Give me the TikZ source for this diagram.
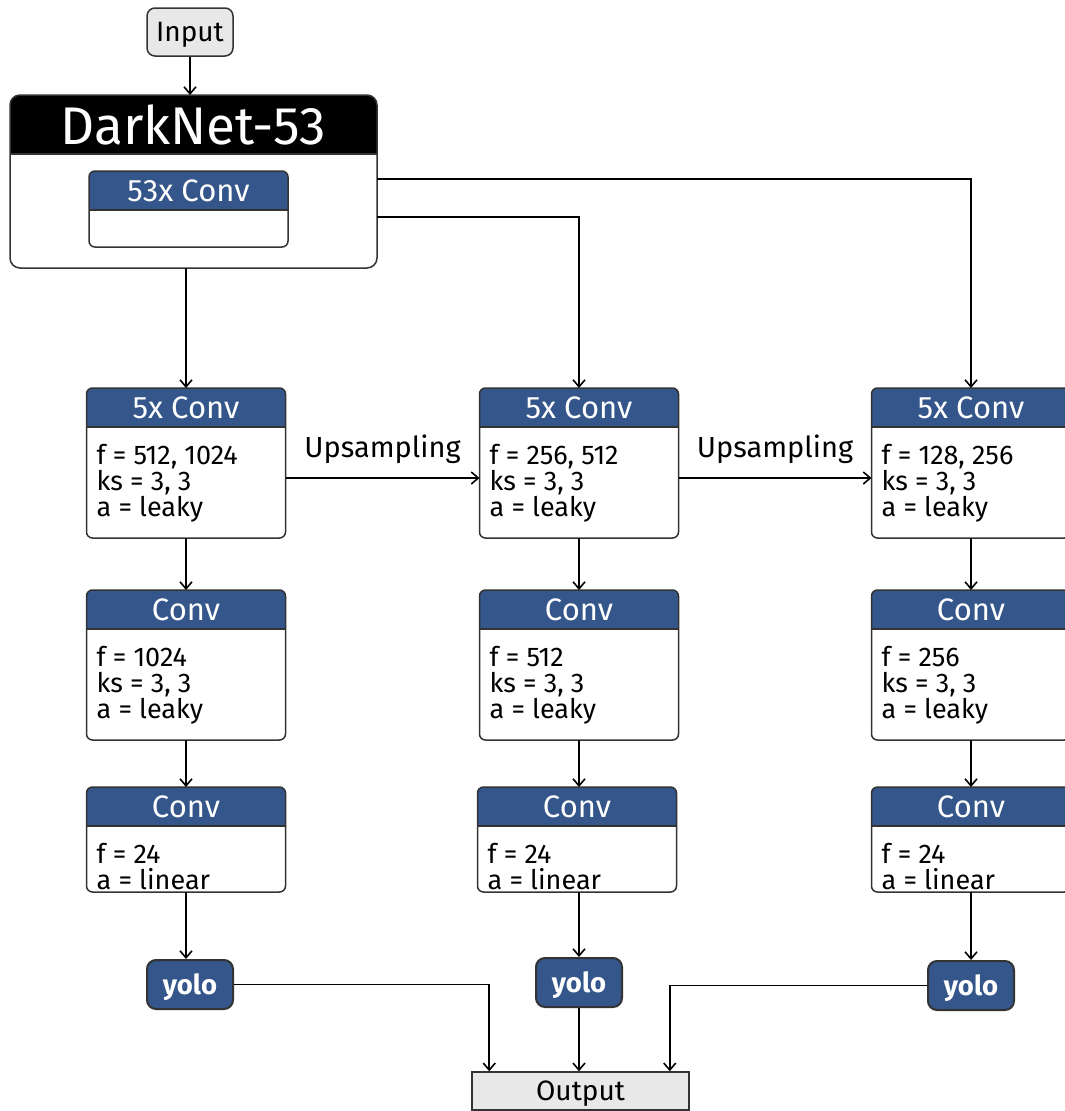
\documentclass[tikz,border=0pt]{standalone}
\usepackage{fontspec}
\setmainfont{Fira Sans}
\usetikzlibrary{arrows.meta,calc}
\definecolor{hdr}{HTML}{34568B}
\definecolor{lgray}{HTML}{E8E8E8}
\definecolor{bdc}{HTML}{333333}
\tikzset{
 frame/.style={draw=bdc, line width=1.5pt},
 conn/.style={draw=black, line width=1.8pt, -{Straight Barb[length=7pt,width=12pt,line width=1.6pt]}},
 ghost/.style={inner sep=0pt, outer sep=0pt, minimum width=199pt},
 htext/.style={text=white, inner sep=0pt, font=\fontsize{31}{34}\selectfont},
 btext/.style={font=\fontsize{27}{30}\selectfont, inner sep=0pt, anchor=base west},
 yolobox/.style={draw=bdc, line width=2pt, fill=hdr, rounded corners=9pt, minimum width=86pt, minimum height=49pt, inner sep=0pt, text=white, text depth=0pt, font=\fontsize{27.5}{30}\selectfont\bfseries},
 graybox/.style={draw=bdc, line width=1.5pt, fill=lgray, inner sep=0pt, text=black, text depth=0pt, font=\fontsize{28}{31}\selectfont},
 uplabel/.style={inner sep=0pt, font=\fontsize{29}{32}\selectfont},
}
% name, center x, top y, height, title, lines
\newcommand\convbox[6]{%
 \node[ghost, minimum height=#4pt] (#1) at (#2,{-#3-#4/2}) {};
 \begin{scope}
 \clip[rounded corners=6pt] (#1.north west) rectangle (#1.south east);
 \fill[white] (#1.north west) rectangle (#1.south east);
 \fill[hdr] (#1.north west) rectangle ([yshift=-39pt]#1.north east);
 \end{scope}
 \draw[frame] ([yshift=-39pt]#1.north west) -- ([yshift=-39pt]#1.north east);
 \draw[frame, rounded corners=6pt] (#1.north west) rectangle (#1.south east);
 \node[htext] (#1-h) at ([yshift=-19.5pt]#1.north) {#5};
 \foreach \t [count=\i] in {#6} {
   \node[btext] (#1-t\i) at ([xshift=10pt,yshift={-76.5-26*(\i-1)}]#1.north west) {\t};
 }%
}
\begin{document}
\begin{tikzpicture}[x=1pt,y=1pt]
\useasboundingbox (0,0) rectangle (1065,-1111);
\clip (0,0) rectangle (1065,-1111);
\fill[white] (0,0) rectangle (1065,-1111);

% Input
\node[graybox, rounded corners=8pt, minimum width=86pt, minimum height=48pt] (in) at (190,-32) {Input};

% DarkNet-53 box
\node[inner sep=0pt, outer sep=0pt, minimum width=367pt, minimum height=173pt] (dn) at (193.5,-181.5) {};
\begin{scope}
 \clip[rounded corners=10pt] (dn.north west) rectangle (dn.south east);
 \fill[white] (dn.north west) rectangle (dn.south east);
 \fill[black] (dn.north west) rectangle ([yshift=-59pt]dn.north east);
\end{scope}
\draw[frame] ([yshift=-59pt]dn.north west) -- ([yshift=-59pt]dn.north east);
\draw[frame, rounded corners=10pt] (dn.north west) rectangle (dn.south east);
\node[inner sep=0pt, text=white, font=\fontsize{53}{58}\selectfont] (dnt) at (193.5,-125) {DarkNet-53};
\convbox{dc}{188.5}{171}{76}{53x Conv}{}

% columns
\convbox{L1}{186}{388}{150}{5x Conv}{{f = 512, 1024},{ks = 3, 3},{a = leaky}}
\convbox{L2}{186}{590}{150}{Conv}{{f = 1024},{ks = 3, 3},{a = leaky}}
\convbox{L3}{186}{787}{105}{Conv}{{f = 24},{a = linear}}

\convbox{M1}{579}{388}{150}{5x Conv}{{f = 256, 512},{ks = 3, 3},{a = leaky}}
\convbox{M2}{579}{590}{150}{Conv}{{f = 512},{ks = 3, 3},{a = leaky}}
\convbox{M3}{577}{787}{105}{Conv}{{f = 24},{a = linear}}

\convbox{R1}{971}{388}{150}{5x Conv}{{f = 128, 256},{ks = 3, 3},{a = leaky}}
\convbox{R2}{971}{590}{150}{Conv}{{f = 256},{ks = 3, 3},{a = leaky}}
\convbox{R3}{971}{787}{105}{Conv}{{f = 24},{a = linear}}

% yolo
\node[yolobox] (Ly) at (190,-984.5) {yolo};
\node[yolobox] (My) at (579,-982.5) {yolo};
\node[yolobox] (Ry) at (971,-985.5) {yolo};

% output
\node[graybox, minimum width=217pt, minimum height=38pt] (out) at (580.5,-1091) {Output};

% connectors
\draw[conn] (in.south) -- (in.south |- dn.north);
\draw[conn] (dn.south -| L1.north) -- (L1.north);
\draw[conn] ([yshift=-35.5pt]dn.east) -| (M1.north);
\draw[conn] ([yshift=2.5pt]dn.east) -| (R1.north);

\draw[conn] ([yshift=-15pt]L1.east) -- ([yshift=-15pt]M1.west) node[uplabel, midway, above=13pt] (up1) {Upsampling};
\draw[conn] ([yshift=-15pt]M1.east) -- ([yshift=-15pt]R1.west) node[uplabel, midway, above=13pt] (up2) {Upsampling};

\draw[conn] (L1.south) -- (L2.north);
\draw[conn] (L2.south) -- (L3.north);
\draw[conn] (L3.south) -- (L3.south |- Ly.north);
\draw[conn] (M1.south) -- (M2.north);
\draw[conn] (M2.south) -- (M2.south |- M3.north);
\draw[conn] (M2.south |- M3.south) -- (M2.south |- My.north);
\draw[conn] (R1.south) -- (R2.north);
\draw[conn] (R2.south) -- (R3.north);
\draw[conn] (R3.south) -- (R3.south |- Ry.north);

\coordinate (oL) at ([xshift=18pt]out.north west);
\coordinate (oR) at ([xshift=-20pt]out.north east);
\draw[conn] (Ly.east) -| (oL);
\draw[conn] (My.south) -- (My.south |- out.north);
\draw[conn] (Ry.west) -| (oR);
\end{tikzpicture}
\end{document}
